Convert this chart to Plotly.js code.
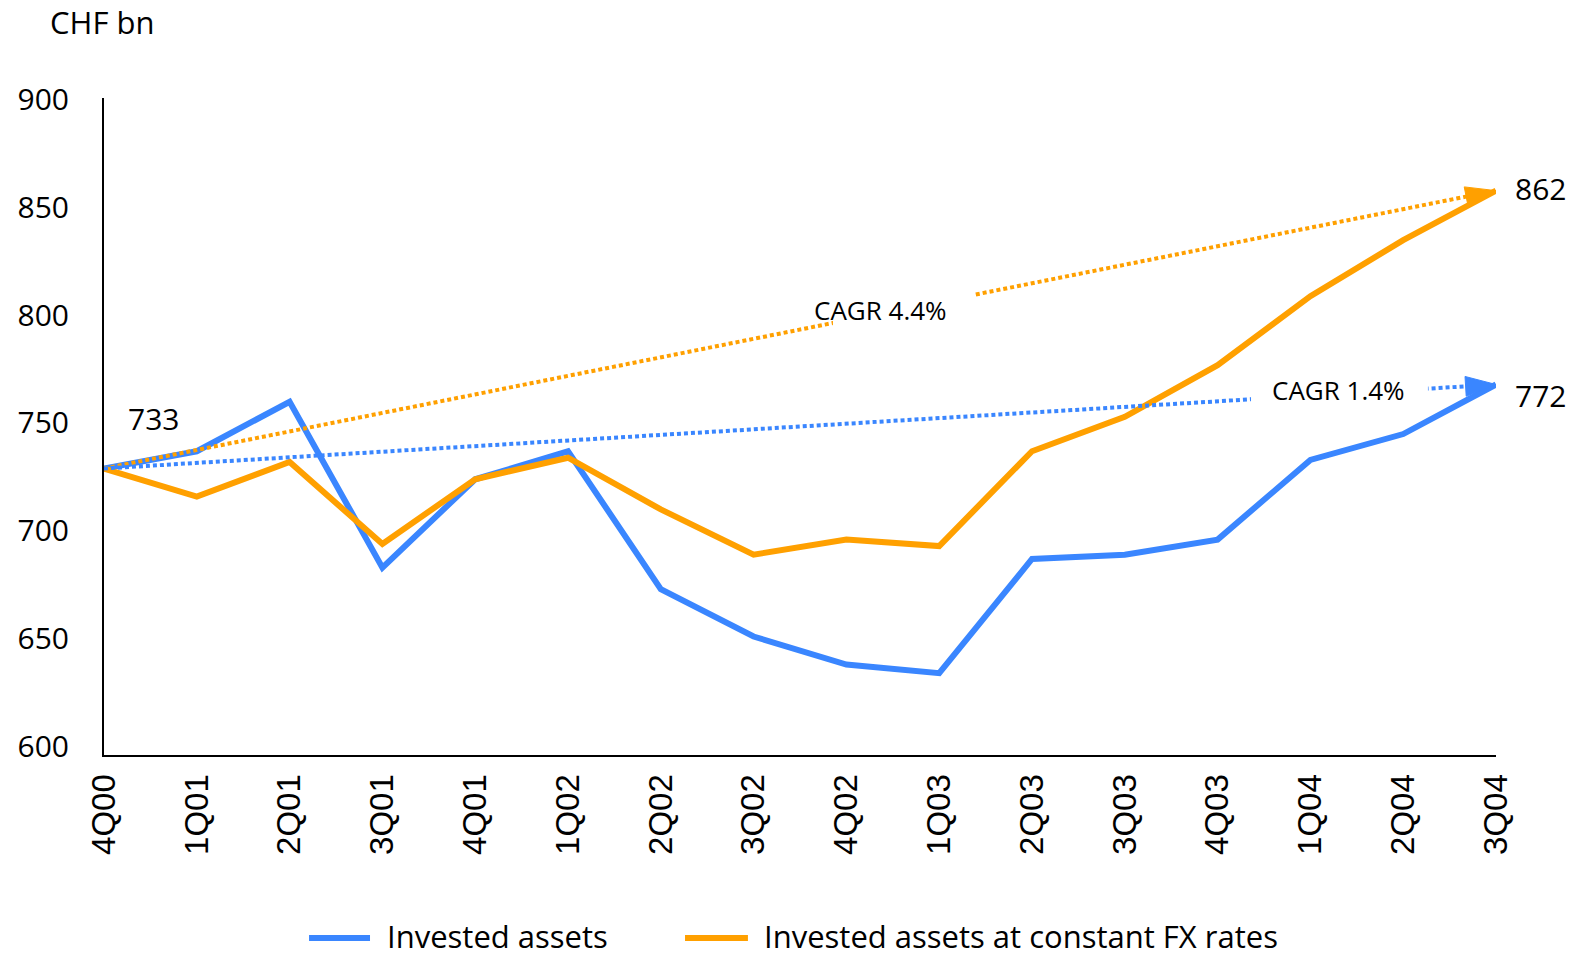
<!DOCTYPE html>
<html>
<head>
<meta charset="utf-8">
<script src="https://cdn.plot.ly/plotly-3.0.1.min.js"></script>
<style>
  html, body { margin: 0; padding: 0; background: #ffffff; }
  #chart { width: 1582px; height: 959px; }
</style>
</head>
<body>
<div id="chart"></div>
<script>
// ---- Data (CHF bn) ----
const quarters = ["4Q00","1Q01","2Q01","3Q01","4Q01","1Q02","2Q02","3Q02","4Q02","1Q03","2Q03","3Q03","4Q03","1Q04","2Q04","3Q04"];
const investedAssets = [733, 741, 764, 687, 728, 741, 677, 655, 642, 638, 691, 693, 700, 737, 749, 772];
const investedAssetsConstFX = [733, 720, 736, 698, 728, 738, 714, 693, 700, 697, 741, 757, 781, 813, 839, 862];
const trendQuarters = ["4Q00", "3Q04"];
const trendInvested = [733, 772];
const trendConstFX = [733, 862];
const cagrLabels = ["CAGR 1.4%", "CAGR 4.4%"];
const seriesNames = ["Invested assets", "Invested assets at constant FX rates"];
const yTicks = [600, 650, 700, 750, 800, 850, 900];

const BLUE = "#3A86FF";
const ORANGE = "#FFA000";
const FONT = "Open Sans, Noto Sans, sans-serif";

const traces = [
  {
    x: quarters, y: investedAssets, name: seriesNames[0], type: "scatter", mode: "lines",
    line: { color: BLUE, width: 6 }, showlegend: false
  },
  {
    x: quarters, y: investedAssetsConstFX, name: seriesNames[1], type: "scatter", mode: "lines",
    line: { color: ORANGE, width: 6 }, showlegend: false
  },
  {
    x: trendQuarters, y: trendConstFX, name: cagrLabels[1], type: "scatter", mode: "lines+markers",
    line: { color: ORANGE, width: 4, dash: "4px,3px" },
    marker: { symbol: "arrow", size: [0, 32], color: ORANGE, opacity: 1, angleref: "previous",
              line: { width: 1, color: ORANGE } },
    showlegend: false, hoverinfo: "skip"
  },
  {
    x: trendQuarters, y: trendInvested, name: cagrLabels[0], type: "scatter", mode: "lines+markers",
    line: { color: BLUE, width: 4, dash: "4px,3px" },
    marker: { symbol: "arrow", size: [0, 32], color: BLUE, opacity: 1, angleref: "previous",
              line: { width: 1, color: BLUE } },
    showlegend: false, hoverinfo: "skip"
  }
];

const layout = {
  width: 1582, height: 959,
  margin: { l: 104, r: 86, t: 98, b: 204 },
  paper_bgcolor: "#ffffff", plot_bgcolor: "#ffffff",
  showlegend: false,
  font: { family: FONT, color: "#000000" },
  xaxis: {
    type: "category",
    categoryorder: "array", categoryarray: quarters,
    range: [0, quarters.length - 1],
    showgrid: false, zeroline: false,
    showline: true, linecolor: "#000000", linewidth: 2,
    ticks: "", tickangle: -90,
    tickfont: { family: "Liberation Sans, Arial, sans-serif", size: 33, color: "#000000" },
    ticklabelstandoff: 4
  },
  yaxis: {
    range: [600, 905],
    tickvals: yTicks,
    showgrid: false, zeroline: false,
    showline: true, linecolor: "#000000", linewidth: 2,
    ticks: "",
    tickfont: { family: FONT, size: 30, color: "#000000" },
    ticklabelshift: -9,
    ticklabelstandoff: 27
  },
  shapes: [
    // gaps in the trend lines behind the CAGR labels
    { type: "rect", xref: "paper", yref: "paper", x0: 0.5237, x1: 0.625, y0: 0.635, y1: 0.725,
      fillcolor: "#ffffff", line: { width: 0 }, layer: "above" },
    { type: "rect", xref: "paper", yref: "paper", x0: 0.824, x1: 0.9511, y0: 0.518, y1: 0.575,
      fillcolor: "#ffffff", line: { width: 0 }, layer: "above" },
    // legend samples
    { type: "line", xref: "paper", yref: "paper", x0: 0.1473, x1: 0.1911, y0: -0.2785, y1: -0.2785,
      line: { color: BLUE, width: 6 } },
    { type: "line", xref: "paper", yref: "paper", x0: 0.4174, x1: 0.4626, y0: -0.2785, y1: -0.2785,
      line: { color: ORANGE, width: 6 } }
  ],
  annotations: [
    { text: "CHF bn", xref: "paper", yref: "paper", x: -0.0014, y: 1.1157, xanchor: "center", yanchor: "middle",
      showarrow: false, font: { family: FONT, size: 31, color: "#000" } },
    { text: String(investedAssets[0]), xref: "paper", yref: "paper", x: 0.0355, y: 0.512, xanchor: "center", yanchor: "middle",
      showarrow: false, font: { family: FONT, size: 30, color: "#000" } },
    { text: String(investedAssetsConstFX[investedAssetsConstFX.length - 1]), xref: "paper", yref: "paper", x: 1.032, y: 0.862,
      xanchor: "center", yanchor: "middle", showarrow: false, font: { family: FONT, size: 30, color: "#000" } },
    { text: String(investedAssets[investedAssets.length - 1]), xref: "paper", yref: "paper", x: 1.032, y: 0.547,
      xanchor: "center", yanchor: "middle", showarrow: false, font: { family: FONT, size: 30, color: "#000" } },
    { text: cagrLabels[1], xref: "paper", yref: "paper", x: 0.558, y: 0.678, xanchor: "center", yanchor: "middle",
      showarrow: false, font: { family: FONT, size: 26, color: "#000" } },
    { text: cagrLabels[0], xref: "paper", yref: "paper", x: 0.887, y: 0.5548, xanchor: "center", yanchor: "middle",
      showarrow: false, font: { family: FONT, size: 26, color: "#000" } },
    { text: seriesNames[0], xref: "paper", yref: "paper", x: 0.2019, y: -0.2755, xanchor: "left", yanchor: "middle",
      showarrow: false, font: { family: FONT, size: 31, color: "#000" } },
    { text: seriesNames[1], xref: "paper", yref: "paper", x: 0.4727, y: -0.2755, xanchor: "left", yanchor: "middle",
      showarrow: false, font: { family: FONT, size: 31, color: "#000" } }
  ]
};

Plotly.newPlot("chart", traces, layout, { displayModeBar: false, staticPlot: true });
</script>
</body>
</html>
